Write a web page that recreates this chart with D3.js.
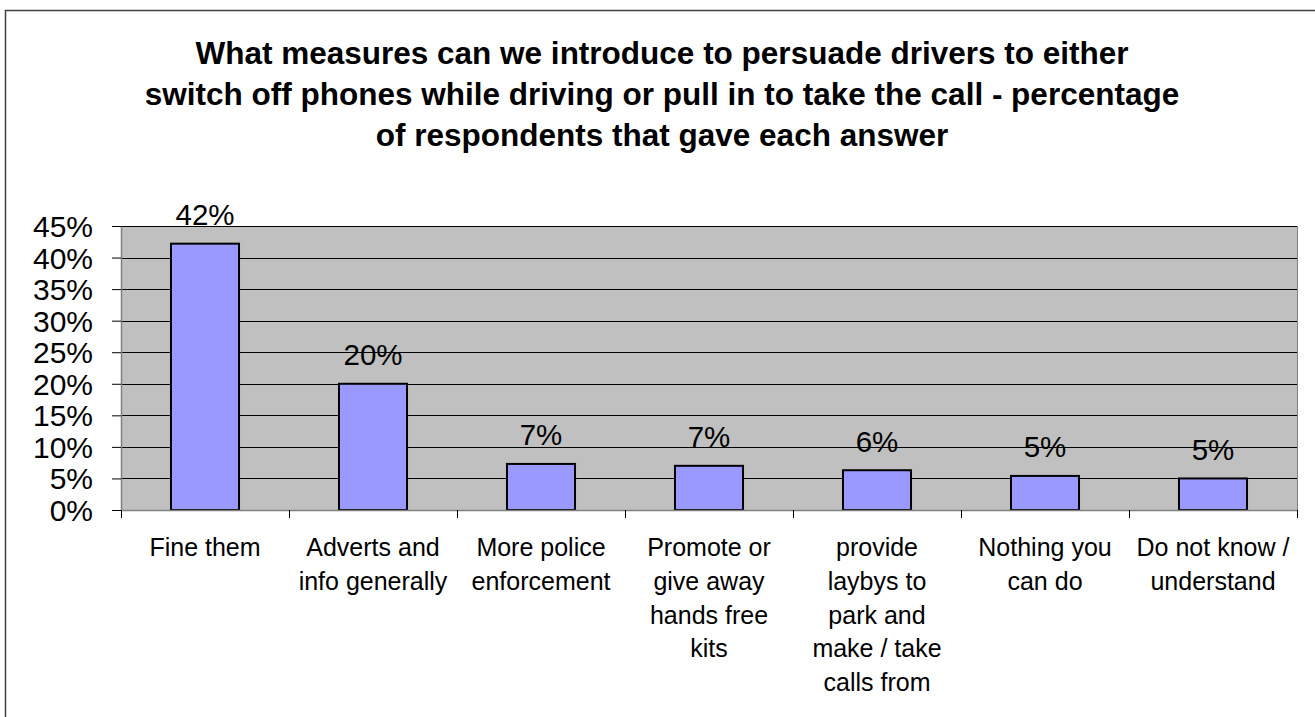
<!DOCTYPE html>
<html>
<head>
<meta charset="utf-8">
<script src="https://cdn.jsdelivr.net/npm/d3@7"></script>
<style>
  html, body { margin: 0; padding: 0; background: #ffffff; }
  svg { display: block; }
  text { font-family: "Liberation Sans", Arial, sans-serif; fill: #000; }
</style>
</head>
<body>
<svg id="chart" width="1315" height="717"></svg>
<script>
// ---- Data ----
const titleLines = [
  "What measures can we introduce to persuade drivers to either",
  "switch off phones while driving or pull in to take the call - percentage",
  "of respondents that gave each answer"
];
const categories = [
  "Fine them",
  "Adverts and\ninfo generally",
  "More police\nenforcement",
  "Promote or\ngive away\nhands free\nkits",
  "provide\nlaybys to\npark and\nmake / take\ncalls from",
  "Nothing you\ncan do",
  "Do not know /\nunderstand"
];
const values = [0.422, 0.200, 0.073, 0.070, 0.063, 0.054, 0.050];
const yTicks = [0, 0.05, 0.10, 0.15, 0.20, 0.25, 0.30, 0.35, 0.40, 0.45];

// ---- Layout ----
const W = 1315, H = 717;
const plot = { left: 121, right: 1297, top: 226, bottom: 510 };
const svg = d3.select("#chart");

// outer frame
svg.append("rect")
  .attr("x", 5.5).attr("y", 10.5)
  .attr("width", W + 20).attr("height", H + 20)
  .attr("fill", "#fff").attr("stroke", "#404040").attr("stroke-width", 1.5);

const x = d3.scaleBand().domain(categories).range([plot.left, plot.right]).padding(0);
const y = d3.scaleLinear().domain([0, 0.45]).range([plot.bottom, plot.top]);

// plot background
svg.append("rect")
  .attr("x", plot.left).attr("y", plot.top)
  .attr("width", plot.right - plot.left).attr("height", plot.bottom - plot.top)
  .attr("fill", "#C0C0C0");

// gridlines
svg.append("g").selectAll("line").data(yTicks.filter(d => d > 0)).join("line")
  .attr("x1", plot.left).attr("x2", plot.right)
  .attr("y1", d => Math.round(y(d)) + 0.5).attr("y2", d => Math.round(y(d)) + 0.5)
  .attr("stroke", "#000").attr("stroke-width", 1);

// right border of plot
svg.append("line")
  .attr("x1", plot.right + 0.5).attr("x2", plot.right + 0.5)
  .attr("y1", plot.top).attr("y2", plot.bottom)
  .attr("stroke", "#808080").attr("stroke-width", 1);

// bars
const barFrac = 0.405;
svg.append("g").selectAll("rect").data(values).join("rect")
  .attr("x", (d, i) => x(categories[i]) + x.bandwidth() * (1 - barFrac) / 2)
  .attr("y", d => y(d))
  .attr("width", x.bandwidth() * barFrac)
  .attr("height", d => y(0) - y(d))
  .attr("fill", "#9999FF").attr("stroke", "#000").attr("stroke-width", 2);

// value labels
svg.append("g").selectAll("text").data(values).join("text")
  .attr("x", (d, i) => x(categories[i]) + x.bandwidth() / 2)
  .attr("y", d => y(d) - 18.5)
  .attr("text-anchor", "middle")
  .attr("font-size", 29.5)
  .text(d => d3.format(".0%")(d));

// y axis
const yAxis = d3.axisLeft(y).tickValues(yTicks).tickFormat(d3.format(".0%")).tickSize(9).tickSizeOuter(0);
const gy = svg.append("g").attr("transform", `translate(${plot.left},0)`).call(yAxis);
gy.select(".domain").attr("stroke", "#808080").attr("stroke-width", 1.5);
gy.selectAll(".tick line").attr("stroke", "#000");
gy.selectAll(".tick text").attr("font-size", 30).attr("font-family", "Liberation Sans, Arial, sans-serif")
  .attr("fill", "#000").attr("x", -28).attr("dy", "0.35em");

// x axis line and ticks at category boundaries
const boundaries = categories.map(c => x(c)).concat([plot.right]);
svg.append("line")
  .attr("x1", plot.left).attr("x2", plot.right)
  .attr("y1", plot.bottom + 0.5).attr("y2", plot.bottom + 0.5)
  .attr("stroke", "#808080").attr("stroke-width", 1.5);
svg.append("g").selectAll("line").data(boundaries).join("line")
  .attr("x1", d => d + 0.5).attr("x2", d => d + 0.5)
  .attr("y1", plot.bottom).attr("y2", plot.bottom + 8)
  .attr("stroke", "#000").attr("stroke-width", 1);

// category labels
const catG = svg.append("g");
categories.forEach((c, i) => {
  const cx = x(c) + x.bandwidth() / 2;
  const t = catG.append("text")
    .attr("text-anchor", "middle")
    .attr("font-size", 25);
  c.split("\n").forEach((line, j) => {
    t.append("tspan").attr("x", cx).attr("y", 556 + j * 33.8).text(line);
  });
});

// title
svg.append("g").selectAll("text").data(titleLines).join("text")
  .attr("x", 662)
  .attr("y", (d, i) => 64 + i * 41)
  .attr("text-anchor", "middle")
  .attr("font-size", 31.5)
  .attr("font-weight", "bold")
  .text(d => d);
</script>
</body>
</html>
